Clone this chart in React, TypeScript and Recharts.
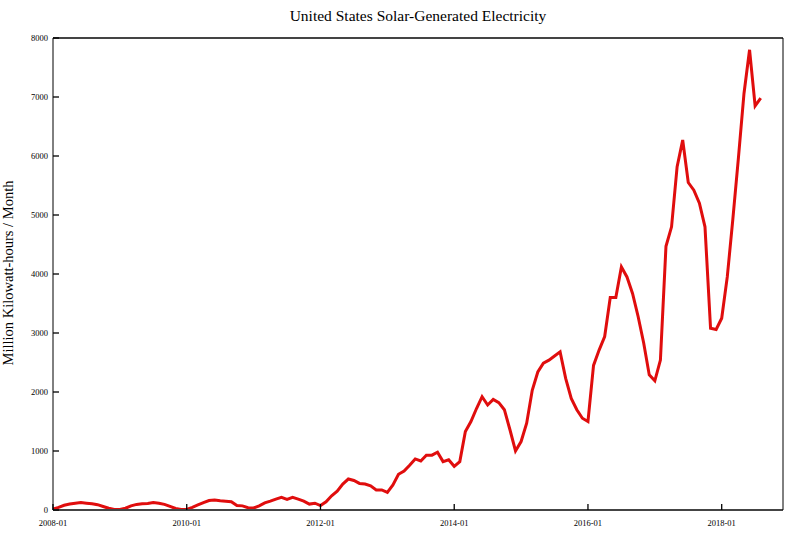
import { LineChart, Line, XAxis, YAxis } from "recharts";

// monthly values, million kWh
const y2008 = [15, 45, 80, 100, 115, 125, 115, 105, 90, 60, 30, 10];
const y2009 = [10, 30, 70, 95, 105, 110, 125, 115, 95, 60, 25, 10];
const y2010 = [10, 45, 85, 125, 160, 170, 155, 150, 140, 75, 70, 40];
const y2011 = [35, 70, 120, 150, 185, 215, 180, 215, 185, 150, 100, 115];
const y2012 = [75, 140, 240, 320, 440, 525, 500, 450, 440, 410, 340, 340];
const y2013 = [300, 425, 605, 660, 760, 865, 830, 930, 930, 980, 820, 850];
const y2014 = [740, 820, 1330, 1500, 1720, 1920, 1780, 1875, 1820, 1700, 1360, 1000];
const y2015 = [1160, 1470, 2030, 2340, 2490, 2540, 2610, 2680, 2230, 1890, 1700, 1555];
const y2016 = [1500, 2450, 2710, 2940, 3600, 3600, 4120, 3950, 3670, 3280, 2830, 2290];
const y2017 = [2190, 2540, 4470, 4800, 5820, 6270, 5550, 5420, 5200, 4800, 3080, 3060];
const y2018 = [3250, 3950, 4930, 5970, 7060, 7800, 6850, 6980];

const startYear = 2008;
const yTicks = [0, 1000, 2000, 3000, 4000, 5000, 6000, 7000, 8000];
const xMinorTicks = Array.from({ length: 44 }, (_, k) => k * 3); // every quarter
const xMajorTicks = [0, 24, 48, 72, 96, 120]; // every two years, labelled
const xDomain = [0, 131];

const values = [
  ...y2008, ...y2009, ...y2010, ...y2011, ...y2012, ...y2013,
  ...y2014, ...y2015, ...y2016, ...y2017, ...y2018,
];
const data = values.map((v, i) => ({ month: i, kwh: v }));

const RED = "#e00d0d";
const FONT = "'Liberation Serif', 'DejaVu Serif', serif";
const tickLineStyle = { stroke: "#000", strokeWidth: 1.3 };

function monthLabel(i: number): string {
  const y = startYear + Math.floor(i / 12);
  const m = (i % 12) + 1;
  return `${y}-${String(m).padStart(2, "0")}`;
}

function XLabel(props: any) {
  const { x, y, payload } = props;
  return (
    <text x={x} y={y + 6} textAnchor="middle" fontSize={8.5} fontFamily={FONT} fill="#000">
      {monthLabel(payload.value)}
    </text>
  );
}

function YLabel(props: any) {
  const { x, y, payload } = props;
  return (
    <text x={x} y={y + 3} textAnchor="end" fontSize={8.5} fontFamily={FONT} fill="#000">
      {payload.value}
    </text>
  );
}

export default function App() {
  return (
    <div style={{ position: "absolute", left: 0, top: 0, width: 799, height: 537, background: "#fff" }}>
      <div
        style={{
          position: "absolute",
          left: 53,
          width: 730,
          top: 7,
          textAlign: "center",
          fontFamily: FONT,
          fontSize: 15.5,
          color: "#000",
          whiteSpace: "nowrap",
        }}
      >
        United States Solar-Generated Electricity
      </div>
      <div
        style={{
          position: "absolute",
          left: 8,
          top: 273,
          transform: "translate(-50%, -50%) rotate(-90deg)",
          fontFamily: FONT,
          fontSize: 14.5,
          color: "#000",
          whiteSpace: "nowrap",
        }}
      >
        Million Kilowatt-hours / Month
      </div>
      <LineChart
        width={799}
        height={537}
        data={data}
        margin={{ top: 28, right: 6, bottom: 6, left: 8 }}
        style={{ position: "absolute", left: 0, top: 0 }}
      >
        {/* bottom: minor quarter ticks, then labelled major ticks on the same line */}
        <XAxis
          xAxisId="bminor"
          type="number"
          domain={xDomain}
          ticks={xMinorTicks}
          interval={0}
          height={0}
          tickSize={-3.5}
          tick={false}
          tickLine={tickLineStyle}
          axisLine={false}
          allowDataOverflow
        />
        <XAxis
          dataKey="month"
          type="number"
          domain={xDomain}
          ticks={xMajorTicks}
          interval={0}
          height={21}
          tickSize={-6}
          tickMargin={16}
          tick={(p: any) => <XLabel {...p} />}
          tickLine={tickLineStyle}
          axisLine={{ stroke: "#444", strokeWidth: 2 }}
          allowDataOverflow
        />
        <XAxis
          xAxisId="tminor"
          orientation="top"
          type="number"
          domain={xDomain}
          ticks={xMinorTicks}
          interval={0}
          height={0}
          tickSize={-3.5}
          tick={false}
          tickLine={tickLineStyle}
          axisLine={false}
          allowDataOverflow
        />
        <XAxis
          xAxisId="tmajor"
          orientation="top"
          type="number"
          domain={xDomain}
          ticks={xMajorTicks}
          interval={0}
          height={10}
          tickSize={-6}
          tick={false}
          tickLine={tickLineStyle}
          axisLine={{ stroke: "#444", strokeWidth: 2 }}
          allowDataOverflow
        />
        <YAxis
          type="number"
          domain={[0, 8000]}
          ticks={yTicks}
          interval={0}
          width={45}
          tickSize={-6}
          tickMargin={11}
          tick={(p: any) => <YLabel {...p} />}
          tickLine={tickLineStyle}
          axisLine={{ stroke: "#000", strokeWidth: 1 }}
        />
        <YAxis
          yAxisId="right"
          orientation="right"
          type="number"
          domain={[0, 8000]}
          ticks={yTicks}
          interval={0}
          width={10}
          tickSize={-6}
          tick={false}
          tickLine={tickLineStyle}
          axisLine={{ stroke: "#000", strokeWidth: 1 }}
        />
        <Line
          type="linear"
          dataKey="kwh"
          stroke={RED}
          strokeWidth={3}
          dot={false}
          isAnimationActive={false}
        />
      </LineChart>
    </div>
  );
}
